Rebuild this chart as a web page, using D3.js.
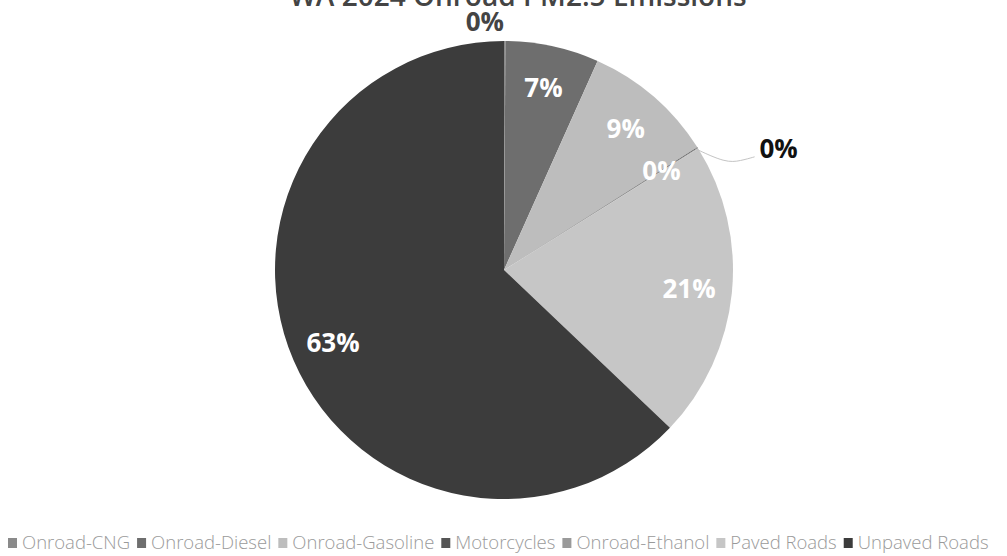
<!DOCTYPE html>
<html><head><meta charset="utf-8">
<script src="https://cdn.jsdelivr.net/npm/d3@7"></script>
<style>body{margin:0;background:#fff;}svg{display:block;}</style>
</head><body>
<svg id="c" width="1007" height="556"></svg>
<script>
const categories = ["Onroad-CNG","Onroad-Diesel","Onroad-Gasoline","Motorcycles","Onroad-Ethanol","Paved Roads","Unpaved Roads"];
const values = [0.1, 6.6, 9.3, 0.05, 0.05, 21.0, 62.9];
const labels = ["0%","7%","9%","0%","0%","21%","63%"];
const colors = ["#8a8a8a","#6e6e6e","#bdbdbd","#555555","#9a9a9a","#c6c6c6","#3c3c3c"];
const title = "WA 2024 Onroad PM2.5 Emissions";

const svg = d3.select("#c");
const cx = 504, cy = 270, R = 229;

svg.append("text").attr("x", 518).attr("y", 6).attr("text-anchor","middle")
  .attr("font-family","Open Sans, sans-serif").attr("font-size",28).attr("font-weight",600)
  .attr("fill","#444").text(title);

const pie = d3.pie().sort(null).value(d=>d)(values);
const arc = d3.arc().innerRadius(0).outerRadius(R);
const g = svg.append("g").attr("transform",`translate(${cx},${cy})`);
g.selectAll("path").data(pie).join("path").attr("d",arc)
  .attr("fill",(d,i)=>colors[i]);

const inArc = d3.arc().innerRadius(186).outerRadius(186);
pie.forEach((d,i)=>{
  let x,y,fill="#fff";
  if(i===0){ const a=(d.startAngle+d.endAngle)/2; x=Math.sin(a)*(R+20)-20; y=-Math.cos(a)*(R+20)+1; fill="#444"; }
  else if(i===3){
    const a=(d.startAngle+d.endAngle)/2;
    const p0=[Math.sin(a)*R*0.99, -Math.cos(a)*R*0.99];
    const p1=[p0[0]+45, p0[1]+12];
    const p2=[p1[0]+14, p1[1]-4];
    g.append("path").attr("d",d3.line().curve(d3.curveBasis)([p0,[p0[0]+30,p0[1]+14],p1,p2]))
      .attr("fill","none").attr("stroke","#c4c4c4").attr("stroke-width",1);
    x=p2[0]+24; y=p2[1]-8; fill="#111";
  }
  else { [x,y]=inArc.centroid(d); }
  g.append("text").attr("x",x).attr("y",y).attr("dy","0.35em").attr("text-anchor","middle")
    .attr("font-family","Open Sans, sans-serif").attr("font-weight",700).attr("font-size",26)
    .attr("fill",fill).text(labels[i]);
});

const lg = svg.append("g").attr("font-family","Open Sans, sans-serif").attr("font-size",18.5).attr("font-weight",300);
let lx = 8;
categories.forEach((c,i)=>{
  lg.append("rect").attr("x",lx).attr("y",538).attr("width",9).attr("height",10).attr("fill",colors[i]);
  const t = lg.append("text").attr("x",lx+14).attr("y",549).attr("fill","#9a9a9a").text(c);
  lx += 14 + t.node().getComputedTextLength() + 7;
});
</script>
</body></html>
